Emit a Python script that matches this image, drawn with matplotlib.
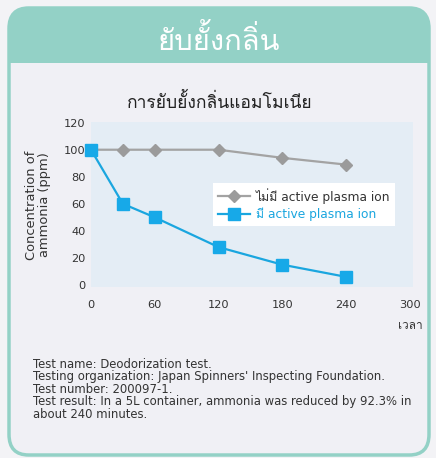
"""Ammonia deodorization chart, with and without active plasma ion."""

import matplotlib
matplotlib.use('Agg')
import matplotlib.pyplot as plt
from matplotlib import font_manager
from matplotlib.patches import FancyBboxPatch, Rectangle
from fontTools.ttLib import TTFont

# data
minutes = [0, 30, 60, 120, 180, 240]
without_ion = [100, 100, 100, 100, 94, 89]
with_ion = [100, 60, 50, 28, 15, 6]
x_ticks = [0, 60, 120, 180, 240, 300]
y_ticks = [0, 20, 40, 60, 80, 100, 120]

header = 'ยับยั้งกลิ่น'
chart_title = 'การยับยั้งกลิ่นแอมโมเนีย'
x_label = 'เวลา'
y_label = 'Concentration of\nammonia (ppm)'
legend_labels = ['ไม่มี active plasma ion', 'มี active plasma ion']
notes = [
    'Test name: Deodorization test.',
    "Testing organization: Japan Spinners' Inspecting Foundation.",
    'Test number: 200097-1.',
    'Test result: In a 5L container, ammonia was reduced by 92.3% in',
    'about 240 minutes.',
]


def find_thai_family():
    # look for any installed font that has Thai glyphs
    for f in font_manager.fontManager.ttflist:
        try:
            cmap = TTFont(f.fname, fontNumber=0, lazy=True).getBestCmap()
        except Exception:
            continue
        if cmap and ord('ก') in cmap and ord('ั') in cmap:
            return f.name
    return None


thai = find_thai_family()
latin = 'DejaVu Sans'
families = [latin] + ([thai] if thai else [])
thai_first = ([thai] if thai else []) + [latin]
plt.rcParams['font.family'] = families

W, H = 436, 458
fig = plt.figure(figsize=(W / 100, H / 100), dpi=100)
fig.patch.set_facecolor('#f3f3f6')


def fx(px):
    return px / W


def fy(py):
    return 1 - py / H


teal = '#93d1c6'
# card with teal border, header band clipped to the card shape
card = FancyBboxPatch((fx(9), fy(455)), fx(420), 447 / H, boxstyle='round,pad=0,rounding_size=0.045',
                      transform=fig.transFigure, facecolor='#f0f0f5', edgecolor=teal, linewidth=2.5,
                      zorder=-3)
fig.patches.append(card)
head = Rectangle((fx(5), fy(63)), fx(430), 60 / H, transform=fig.transFigure,
                 facecolor=teal, edgecolor='none', zorder=-2)
head.set_clip_path(card)
fig.patches.append(head)

fig.text(fx(219), fy(40), header, ha='center', va='center', fontsize=21, color='white',
         family=thai_first)
fig.text(fx(220), fy(102), chart_title, ha='center', va='center', fontsize=12.6, color='#222222',
         family=thai_first)

# plot area
ax = fig.add_axes([fx(91), fy(287), fx(413 - 91), (287 - 122) / H])
ax.set_facecolor('#e4edf5')
for s in ax.spines.values():
    s.set_visible(False)

ax.plot(minutes, without_ion, color='#a3a3a3', linewidth=1.6, marker='D', markersize=6,
        markerfacecolor='#9b9b9b', markeredgecolor='#9b9b9b', label=legend_labels[0], clip_on=False)
ax.plot(minutes, with_ion, color='#1aa6df', linewidth=1.6, marker='s', markersize=9,
        markerfacecolor='#17a9e8', markeredgecolor='#17a9e8', label=legend_labels[1], clip_on=False)

ax.set_xlim(0, 303)
ax.set_ylim(-1.5, 120.5)
ax.set_xticks(x_ticks)
ax.set_yticks(y_ticks)
ax.tick_params(length=0, labelsize=8.2, colors='#333333')
ax.tick_params(axis='x', pad=9)
ax.tick_params(axis='y', pad=4)

fig.text(fx(410), fy(326), x_label, ha='center', va='center', fontsize=8.5, color='#333333',
         family=thai_first)
fig.text(fx(38), fy(205), y_label, ha='center', va='center', rotation=90, fontsize=9.4,
         color='#333333', linespacing=0.95)

leg = ax.legend(loc='upper left', bbox_to_anchor=(fx(213), fy(183)), bbox_transform=fig.transFigure,
                frameon=True, fancybox=False, fontsize=8.8, borderaxespad=0, handlelength=2.6,
                labelspacing=0.3, borderpad=0.4, handletextpad=0.5)
leg.get_frame().set_facecolor('white')
leg.get_frame().set_edgecolor('none')
leg.get_frame().set_alpha(1)
leg.get_texts()[0].set_color('#333333')
leg.get_texts()[1].set_color('#1aa6df')

for i, line in enumerate(notes):
    fig.text(fx(33), fy(364 + i * 12.6), line, ha='left', va='center', fontsize=8.4, color='#333333')

fig.savefig('out.png', dpi=100, facecolor=fig.get_facecolor())
